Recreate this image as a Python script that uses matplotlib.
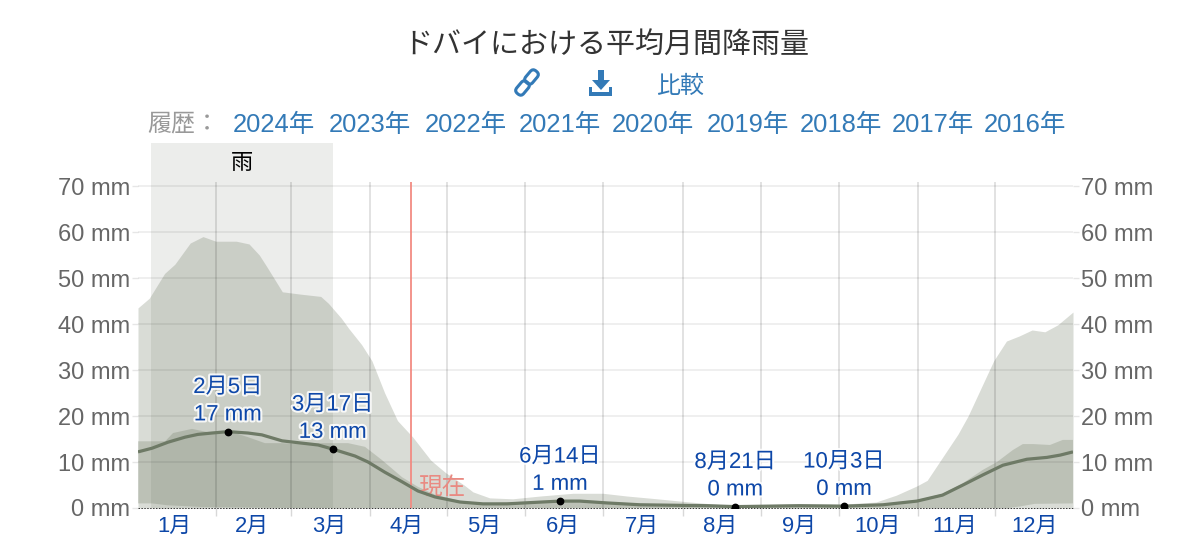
import matplotlib
matplotlib.use('Agg')
import matplotlib.pyplot as plt
from matplotlib.patches import FancyBboxPatch, Polygon
from matplotlib.transforms import Affine2D
import matplotlib.patheffects as pe

plt.rcParams['font.family'] = ['Liberation Sans', 'Noto Sans CJK JP', 'DejaVu Sans']

title = 'ドバイにおける平均月間降雨量'
history_label = '履歴：'
years = ['2024年', '2023年', '2022年', '2021年', '2020年', '2019年', '2018年', '2017年', '2016年']
months = ['1月', '2月', '3月', '4月', '5月', '6月', '7月', '8月', '9月', '10月', '11月', '12月']
month_starts = [30.2, 59.3, 90.3, 120.4, 150.8, 181.3, 212.6, 243, 273.5, 304.6, 334.5]
month_label_days = [14, 44, 74.5, 104.7, 135, 165.7, 196.5, 227, 258, 288.7, 319, 350]
y_ticks = [0, 10, 20, 30, 40, 50, 60, 70]

# day of year, mm
p90_days = [-0.4, 4, 10, 14, 20, 25, 30, 38, 43, 47, 50, 56, 63, 71, 74, 79, 82, 87, 91, 96, 101, 107, 114,
            117.6, 120, 127, 130.5, 137, 146, 156.7, 169.6, 181.3, 190.7, 202.4, 215.3, 228, 243, 258, 274,
            288, 296, 304, 308, 314, 320, 324, 334, 339, 344, 349, 354, 359, 365]
p90_vals = [43.5, 45.6, 51, 53, 57.6, 59, 58, 58, 57.4, 55, 52.4, 47, 46.5, 46, 44.5, 41.3, 39, 35.5, 32, 25, 19,
            15.4, 10.4, 8.7, 7.6, 5, 3.5, 2.2, 2, 2.6, 3.2, 3.2, 2.6, 2, 1.3, 0.7, 0.7, 0.9, 0.8,
            1.3, 2.8, 4.8, 6, 11, 16, 20, 32, 36.3, 37.4, 38.7, 38.3, 39.8, 42.6]

p75_days = [-0.4, 10.2, 13.3, 20.7, 28.5, 37.5, 42.6, 49.2, 55.9, 63.7, 71.5, 81.7, 88.3, 95, 102.8, 109, 115.7,
            125, 135, 165, 180, 196, 233, 258, 275, 291, 304, 314, 322, 329.8, 335.3, 341.5, 345.4, 349.4, 356,
            361, 365]
p75_vals = [14.5, 14.5, 16.3, 17.2, 16.3, 16.3, 15.4, 14.1, 14.1, 13.9, 14.1, 14.1, 13.3, 10.4, 6.7, 4.6, 2.9,
            1.6, 1.0, 1.7, 1.3, 0.8, 0.4, 0.6, 0.5, 0.8, 1.7, 3.1, 5.4, 8.3, 10, 12.6, 13.9, 13.9, 13.7,
            14.8, 14.8]

median_days = [-0.4, 5.1, 11.3, 18, 23, 28.5, 34.7, 42.6, 48, 55.9, 63.7, 70, 75.7, 84.4, 89.5, 96, 102.8, 109,
               115.7, 125.4, 134.4, 143.8, 154, 164.5, 172.3, 182.9, 195.8, 208.7, 222, 233, 258, 275.5, 290.7,
               304, 314, 322, 329.8, 337.6, 347, 354.8, 360, 365]
median_vals = [12.2, 13, 14.3, 15.4, 16, 16.3, 16.6, 16.3, 15.9, 14.6, 14.1, 13.7, 12.8, 11.3, 10, 7.8, 5.7, 3.7,
               2.4, 1.3, 0.9, 0.9, 1.2, 1.5, 1.5, 1.1, 0.7, 0.6, 0.5, 0.3, 0.5, 0.4, 0.7,
               1.5, 2.8, 5, 7.2, 9.3, 10.6, 11, 11.5, 12.2]

p25_days = [-0.4, 5, 11, 25, 50, 60, 340, 345, 350, 365]
p25_vals = [1.0, 1.0, 0.6, 0.2, 0.05, 0, 0, 0.4, 0.9, 1.0]

events = [('2月5日\n17 mm', 34.7, 16.6), ('3月17日\n13 mm', 75.7, 12.8), ('6月14日\n1 mm', 164.5, 1.5),
          ('8月21日\n0 mm', 233, 0.3), ('10月3日\n0 mm', 275.5, 0.4)]
rain_start, rain_end = 4.7, 75.8
now_day = 106.4

blue = '#337ab7'
dark_blue = '#0d47a8'
band = '#616d54'

fig = plt.figure(figsize=(12, 5.51), dpi=100, facecolor='white')
ax = fig.add_axes([138 / 1200, (551 - 508) / 551, 935 / 1200, 365 / 551])
ax.set_xlim(-0.4, 365)
ax.set_ylim(0, 79.35)
ax.patch.set_alpha(0)
for s in ax.spines.values():
    s.set_visible(False)

ax.axvspan(rain_start, rain_end, color='#ecedeb', lw=0, zorder=0)
ax.fill_between(p90_days, 0, p90_vals, color=band, alpha=0.24, lw=0, zorder=1)
ax.fill(p75_days + p25_days[::-1], p75_vals + p25_vals[::-1], color=band, alpha=0.24, lw=0, zorder=2)

for v in y_ticks[1:]:
    ax.axhline(v, color='black', alpha=0.07, lw=1.3, zorder=3)
ax.vlines(month_starts, 0, 70.8, color='black', alpha=0.15, lw=1.1, zorder=3)
ax.vlines(now_day, 0, 70.8, color='#f28b82', lw=1.3, zorder=4)
ax.text(now_day + 2.6, 4.4, '現在', color='#e98a82', fontsize=17, va='center', ha='left', zorder=5)
ax.axhline(0, color='#333333', ls=(0, (1.5, 1.5)), lw=0.7, clip_on=False, zorder=4)

ax.plot(median_days, median_vals, color='#6e7a66', lw=2.3, solid_capstyle='butt', solid_joinstyle='round', zorder=6)
for label, d, v in events:
    ax.plot([d], [v], 'o', color='black', ms=4.6, zorder=7)

ax.set_yticks(y_ticks)
ax.set_yticklabels([f'{v} mm' for v in y_ticks])
ax.tick_params(axis='y', left=True, right=True, labelleft=True, labelright=True, length=4, width=1,
               color='#e6e6e6', labelcolor='#666666', labelsize=17, pad=1.5)
ax.set_xticks(month_starts)
ax.set_xticklabels([])
ax.set_xticks(month_label_days, minor=True)
ax.set_xticklabels(months, minor=True)
ax.tick_params(axis='x', which='major', length=6, width=1, color='#d8d8d8')
ax.tick_params(axis='x', which='minor', length=0, labelcolor=dark_blue, labelsize=15.8, pad=5.5)

halo = [pe.withStroke(linewidth=3, foreground='white', alpha=0.85)]
for label, d, v in events:
    ax.annotate(label, (d, v), xytext=(0, 4.5), textcoords='offset points', ha='center', va='bottom',
                color=dark_blue, fontsize=16, linespacing=1.4, path_effects=halo, zorder=8)

ax.text((rain_start + rain_end) / 2, 74.9, '雨', color='black', fontsize=16, ha='center', va='center', zorder=5)

# header, in pixels of the picture
top = fig.add_axes([0, 0, 1, 1])
top.set_xlim(0, 1200)
top.set_ylim(551, 0)
top.axis('off')
top.patch.set_alpha(0)
top.text(606, 45, title, color='#333333', fontsize=20.9, ha='center', va='center')
top.text(680, 87, '比較', color=blue, fontsize=17.3, ha='center', va='center')
top.text(147, 124, history_label, color='#999999', fontsize=17.3, ha='left', va='center')
for year, cx in zip(years, [274, 370, 466, 560, 653, 748, 841, 933, 1025]):
    top.text(cx, 125, year, color=blue, fontsize=18.4, ha='center', va='center')

# download icon
top.add_patch(Polygon([(598, 70), (604, 70), (604, 80), (610, 80), (601, 90), (592, 80), (598, 80)],
                      color=blue, lw=0))
top.add_patch(Polygon([(589, 87), (592, 87), (592, 92), (609, 92), (609, 87), (612, 87), (612, 96), (589, 96)],
                      color=blue, lw=0))

# link icon
for cx, cy in [(531.5, 77), (522.5, 88)]:
    link = FancyBboxPatch((cx - 7.5, cy - 4.5), 15, 9, boxstyle='round,pad=0,rounding_size=4', fill=False,
                          ec=blue, lw=2.2,
                          transform=Affine2D().rotate_deg_around(cx, cy, -50) + top.transData)
    top.add_patch(link)

fig.savefig('out.png', dpi=100, facecolor='white')
